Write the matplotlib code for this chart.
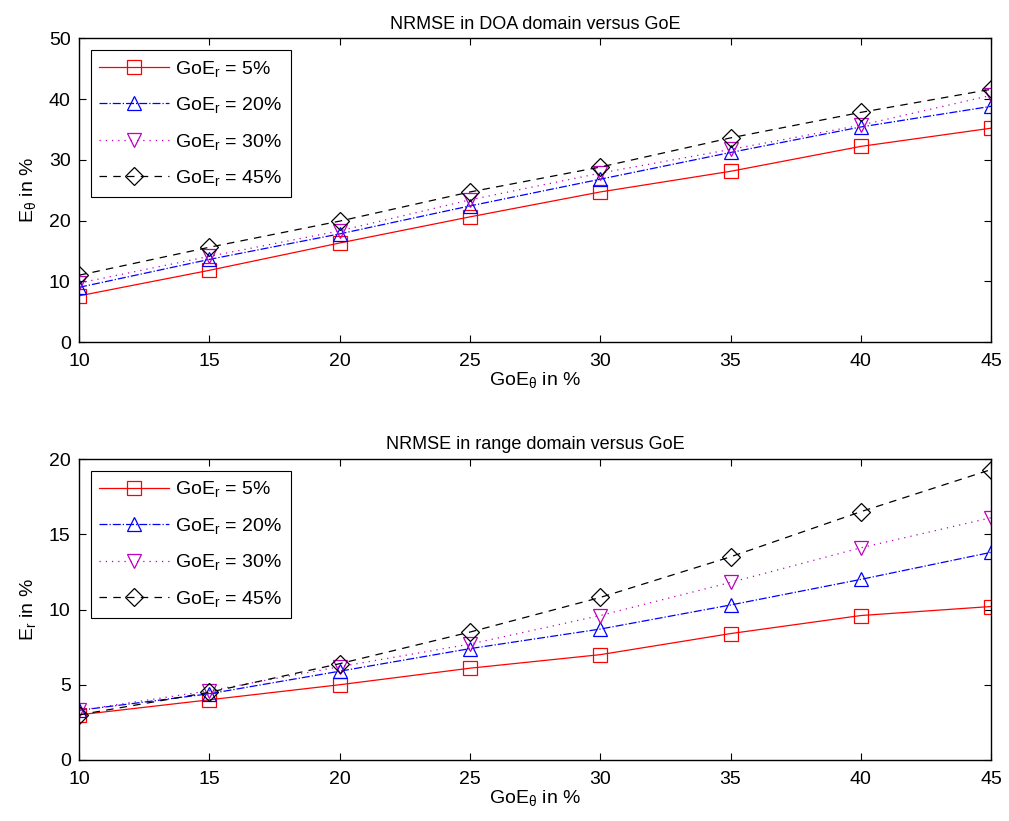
import numpy as np
import matplotlib
matplotlib.use("Agg")
import matplotlib.pyplot as plt

plt.rcParams['font.family'] = ['Liberation Sans', 'DejaVu Sans']
plt.rcParams['mathtext.fontset'] = 'custom'
plt.rcParams['mathtext.rm'] = 'Liberation Sans'
plt.rcParams['mathtext.it'] = 'Liberation Sans'

goe_theta = [10, 15, 20, 25, 30, 35, 40, 45]
labels = ['GoE$_\\mathrm{r}$ = 5%', 'GoE$_\\mathrm{r}$ = 20%',
          'GoE$_\\mathrm{r}$ = 30%', 'GoE$_\\mathrm{r}$ = 45%']

# NRMSE in DOA domain (%)
doa_5 = [7.6, 11.8, 16.3, 20.6, 24.7, 28.1, 32.2, 35.2]
doa_20 = [9.0, 13.6, 17.8, 22.4, 26.8, 31.2, 35.4, 38.8]
doa_30 = [9.7, 14.1, 18.3, 23.4, 27.8, 31.7, 35.7, 40.6]
doa_45 = [11.0, 15.6, 19.9, 24.7, 28.8, 33.6, 37.8, 41.6]

# NRMSE in range domain (%)
rng_5 = [3.0, 4.0, 5.0, 6.1, 7.0, 8.4, 9.6, 10.2]
rng_20 = [3.3, 4.4, 5.9, 7.4, 8.7, 10.3, 12.0, 13.8]
rng_30 = [3.3, 4.6, 6.2, 7.7, 9.6, 11.8, 14.1, 16.1]
rng_45 = [3.0, 4.5, 6.4, 8.5, 10.8, 13.5, 16.5, 19.3]

styles = [('r', '-', 's'), ('b', '-.', '^'), ('m', (0, (1, 4)), 'v'), ('k', (0, (6, 5)), 'D')]

fig = plt.figure(figsize=(10.09, 8.21), dpi=100)
ax1 = fig.add_axes([0.0783, 0.5834, 0.904, 0.370])
ax2 = fig.add_axes([0.0783, 0.0743, 0.904, 0.3666])


def draw(ax, series, ylim, yticks, title, ylabel):
    for (c, ls, mk), ys, lab in zip(styles, series, labels):
        ms = 9 if mk == 'D' else 10.5
        ax.plot(goe_theta, ys, color=c, linestyle=ls, marker=mk, markersize=ms,
                markerfacecolor='none', markeredgecolor=c, linewidth=0.9,
                markeredgewidth=0.9, label=lab)
    ax.set_xlim(10, 45)
    ax.set_ylim(*ylim)
    ax.set_xticks(goe_theta)
    ax.set_yticks(yticks)
    ax.tick_params(direction='in', top=True, right=True, labelsize=14, length=5)
    ax.tick_params(axis='x', pad=8)
    ax.tick_params(axis='y', pad=6)
    for s in ax.spines.values():
        s.set_linewidth(1.0)
    ax.set_title(title, fontsize=13, pad=7)
    ax.set_xlabel('GoE$_\\theta$ in %', fontsize=14, labelpad=0)
    ax.set_ylabel(ylabel, fontsize=14, labelpad=8)
    leg = ax.legend(loc='upper left', fontsize=14, fancybox=False, framealpha=1,
                    edgecolor='k', handlelength=3.6, borderaxespad=0.6,
                    labelspacing=0.85, handletextpad=0.3, borderpad=0.45)
    leg.get_frame().set_linewidth(0.8)


draw(ax1, [doa_5, doa_20, doa_30, doa_45], (0, 50), range(0, 51, 10),
     'NRMSE in DOA domain versus GoE', 'E$_\\theta$ in %')
draw(ax2, [rng_5, rng_20, rng_30, rng_45], (0, 20), range(0, 21, 5),
     'NRMSE in range domain versus GoE', 'E$_\\mathrm{r}$ in %')

fig.savefig('out.png', dpi=100)
